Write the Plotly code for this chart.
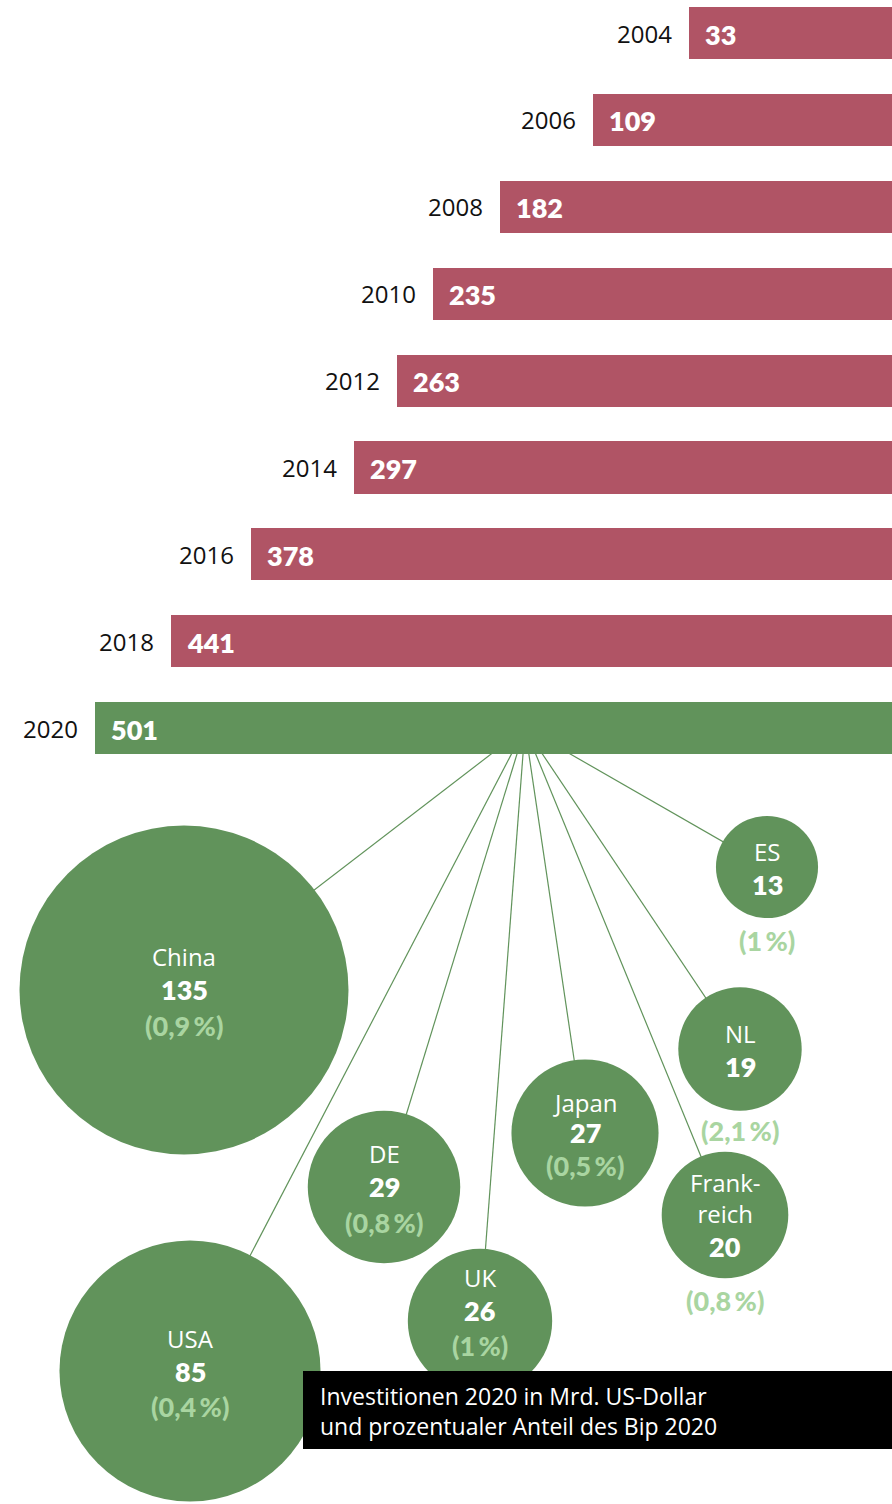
import numpy as np
import plotly.graph_objects as go

# ---------------- data ----------------
years = ["2004", "2006", "2008", "2010", "2012", "2014", "2016", "2018", "2020"]
invest = [33, 109, 182, 235, 263, 297, 378, 441, 501]

countries = ["China", "USA", "DE", "UK", "Japan", "Frank-<br>reich", "NL", "ES"]
country_values = [135, 85, 29, 26, 27, 20, 19, 13]
gdp_share = ["(0,9\u2009%)", "(0,4\u2009%)", "(0,8\u2009%)", "(1\u2009%)", "(0,5\u2009%)",
             "(0,8\u2009%)", "(2,1\u2009%)", "(1\u2009%)"]

note = ["Investitionen 2020 in Mrd. US-Dollar", "und prozentualer Anteil des Bip 2020"]

# ---------------- layout / style ----------------
W, H = 892, 1504
RED = "#b05465"
GREEN = "#61935b"
LIGHT = "#a9d5a1"
FONT_R = "Open Sans"
FONT_B = "Lato"

# bubble layout (pixel positions of centres)
bx = [184, 190, 384, 480, 585, 725, 740, 767]
by = [990, 1371, 1187, 1321, 1133, 1215, 1049, 867]
# label offsets (name, value, share) from centre
name_dy = [-34, -33, -34, -44, -31, -17, -16, -16]
val_dy = [-1, 0, -1, -11, -1, 31, 17, 17]
pct_dy = [35, 35, 35, 24, 32, 85, 81, 73]
hub = (525, 728)  # lines converge in the middle of the 2020 bar

R_MAX = 164.5
radii = [R_MAX * np.sqrt(v / max(country_values)) for v in country_values]

bar_colors = [RED] * (len(years) - 1) + [GREEN]

fig = go.Figure()

# connector lines (base pixel axes, drawn below bars and bubbles)
for x, y in zip(bx, by):
    fig.add_trace(go.Scatter(x=[hub[0], x], y=[hub[1], y], mode="lines",
                             line=dict(color=GREEN, width=1.2),
                             hoverinfo="skip", showlegend=False,
                             xaxis="x", yaxis="y"))

# bubbles
fig.add_trace(go.Scatter(x=bx, y=by, mode="markers",
                         marker=dict(size=[2 * r for r in radii], sizemode="diameter",
                                     color=GREEN, line=dict(width=0), opacity=1),
                         hoverinfo="skip", showlegend=False, xaxis="x", yaxis="y"))

# bars (overlay axes)
fig.add_trace(go.Bar(y=years, x=[v + 127 for v in invest], base=-127, orientation="h",
                     marker=dict(color=bar_colors, line=dict(width=0)), width=0.6,
                     hoverinfo="skip", showlegend=False, xaxis="x2", yaxis="y2"))

annotations = []
for i, (yr, v) in enumerate(zip(years, invest)):
    annotations.append(dict(x=v, y=i, xref="x2", yref="y2", text=yr, showarrow=False,
                            xanchor="right", yanchor="middle", xshift=-15,
                            font=dict(family=FONT_R, size=24, color="#111111")))
    annotations.append(dict(x=v, y=i, xref="x2", yref="y2", text=str(v),
                            showarrow=False, xanchor="left", yanchor="middle", xshift=14, yshift=-1,
                            font=dict(family=FONT_B, size=27, color="white", weight=800)))

for i, c in enumerate(countries):
    annotations.append(dict(x=bx[i], y=by[i] + name_dy[i], xref="x", yref="y", text=c,
                            showarrow=False, xanchor="center", yanchor="middle",
                            font=dict(family=FONT_R, size=24, color="white")))
    annotations.append(dict(x=bx[i], y=by[i] + val_dy[i], xref="x", yref="y",
                            text=str(country_values[i]),
                            showarrow=False, xanchor="center", yanchor="middle",
                            font=dict(family=FONT_B, size=27, color="white", weight=800)))
    annotations.append(dict(x=bx[i], y=by[i] + pct_dy[i], xref="x", yref="y",
                            text=gdp_share[i],
                            showarrow=False, xanchor="center", yanchor="middle",
                            font=dict(family=FONT_B, size=27, color=LIGHT, weight=900)))

annotations.append(dict(x=318, y=1411, xref="x", yref="y", text="<br>".join(note),
                        showarrow=False, xanchor="left", yanchor="middle", align="left",
                        font=dict(family=FONT_R, size=23, color="white")))

shapes = [dict(type="rect", xref="x", yref="y", x0=303, x1=892, y0=1371, y1=1449,
               fillcolor="black", line=dict(width=0), layer="above")]

fig.update_layout(
    width=W, height=H, margin=dict(l=0, r=0, t=0, b=0),
    paper_bgcolor="white", plot_bgcolor="rgba(0,0,0,0)",
    showlegend=False, annotations=annotations, shapes=shapes,
    xaxis=dict(range=[0, W], domain=[0, 1], visible=False, fixedrange=True),
    yaxis=dict(range=[H, 0], domain=[0, 1], visible=False, fixedrange=True),
    xaxis2=dict(range=[575.7, -126.6], overlaying="x", visible=False, fixedrange=True),
    yaxis2=dict(type="category", range=[16.93, -0.38], overlaying="y", visible=False,
                fixedrange=True),
    bargap=0,
)

fig.write_html("out.html", config={"displayModeBar": False},
               post_script="document.body.style.margin='0';document.body.style.padding='0';")
